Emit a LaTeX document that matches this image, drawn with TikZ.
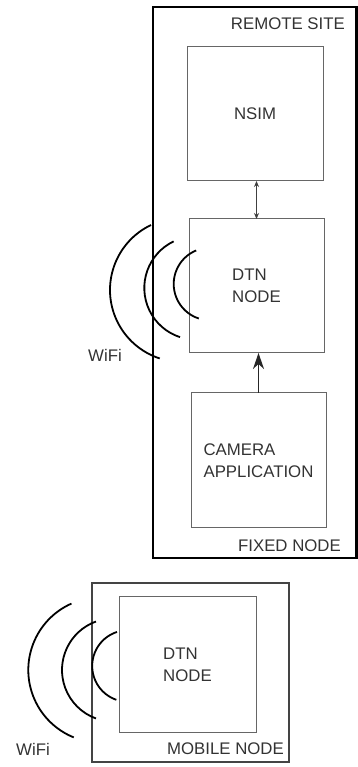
\documentclass[tikz,border=0pt]{standalone}
\usepackage{fontspec}
\setmainfont{Liberation Sans}
\usetikzlibrary{arrows.meta}
\definecolor{txt}{HTML}{333333}
\definecolor{boxgray}{HTML}{666666}
\definecolor{mobgray}{HTML}{444444}
\begin{document}
\begin{tikzpicture}[x=1pt,y=1pt,
  every node/.style={font=\fontsize{16.8}{22}\selectfont, text=txt},
  inbox/.style={draw=boxgray, line width=1pt, rectangle, inner sep=0pt, outer sep=0pt, align=left},
  fixedbox/.style={draw=black, line width=2.2pt, rectangle, inner sep=0pt, outer sep=0pt},
  mobbox/.style={draw=mobgray, line width=1.4pt, rectangle, inner sep=0pt, outer sep=0pt},
  wave/.style={draw=black, line width=1.8pt},
  lbl/.style={inner sep=0pt}]
\useasboundingbox (0,0) rectangle (358,767);
% fixed node
\node[fixedbox, minimum width=203.5, minimum height=551] (fixed) at (254.75,484.5) {};
\node[lbl, anchor=east] (remote) at (345,743) {REMOTE SITE};
\node[lbl, anchor=east] (fixedlbl) at (341,221) {FIXED NODE};
\node[inbox, minimum width=136, minimum height=134] (nsim) at (255,653) {NSIM};
\node[inbox, minimum width=135, minimum height=134] (dtn) at (256.5,481) {DTN\\NODE};
\node[inbox, minimum width=135, minimum height=135] (cam) at (258.5,306.5) {CAMERA\\APPLICATION};
\draw[black!75, line width=1.1pt, {Stealth[length=6pt,width=5pt]}-{Stealth[length=6pt,width=5pt]}]
  (dtn.north) -- (dtn.north |- nsim.south);
\draw[black!85, line width=1.1pt, -{Stealth[length=16pt,width=11pt,inset=5pt]}]
  (cam.north) -- (cam.north |- dtn.south);
% wifi arcs (top)
\draw[wave] (182,477) ++(115.5:72) arc[start angle=115.5, end angle=252, radius=72];
\draw[wave] (196,479) ++(115.6:51.7) arc[start angle=115.6, end angle=252, radius=51.7];
\draw[wave] (210,483) ++(112.4:36.3) arc[start angle=112.4, end angle=252, radius=36.3];
\node[lbl] (wifitop) at (105,412) {WiFi};
% mobile node
\node[mobbox, minimum width=197, minimum height=179] (mobile) at (190.5,94.5) {};
\node[inbox, minimum width=137, minimum height=136] (mdtn) at (187.5,102) {DTN\\NODE};
\node[lbl, anchor=east] (moblbl) at (284,18) {MOBILE NODE};
\draw[wave] (101,97) ++(114:72.7) arc[start angle=114, end angle=248, radius=72.7];
\draw[wave] (113.6,97) ++(110:51.6) arc[start angle=110, end angle=250, radius=51.6];
\draw[wave] (128,101) ++(108:35.8) arc[start angle=108, end angle=251, radius=35.8];
\node[lbl] (wifibot) at (33,18) {WiFi};
\end{tikzpicture}
\end{document}
